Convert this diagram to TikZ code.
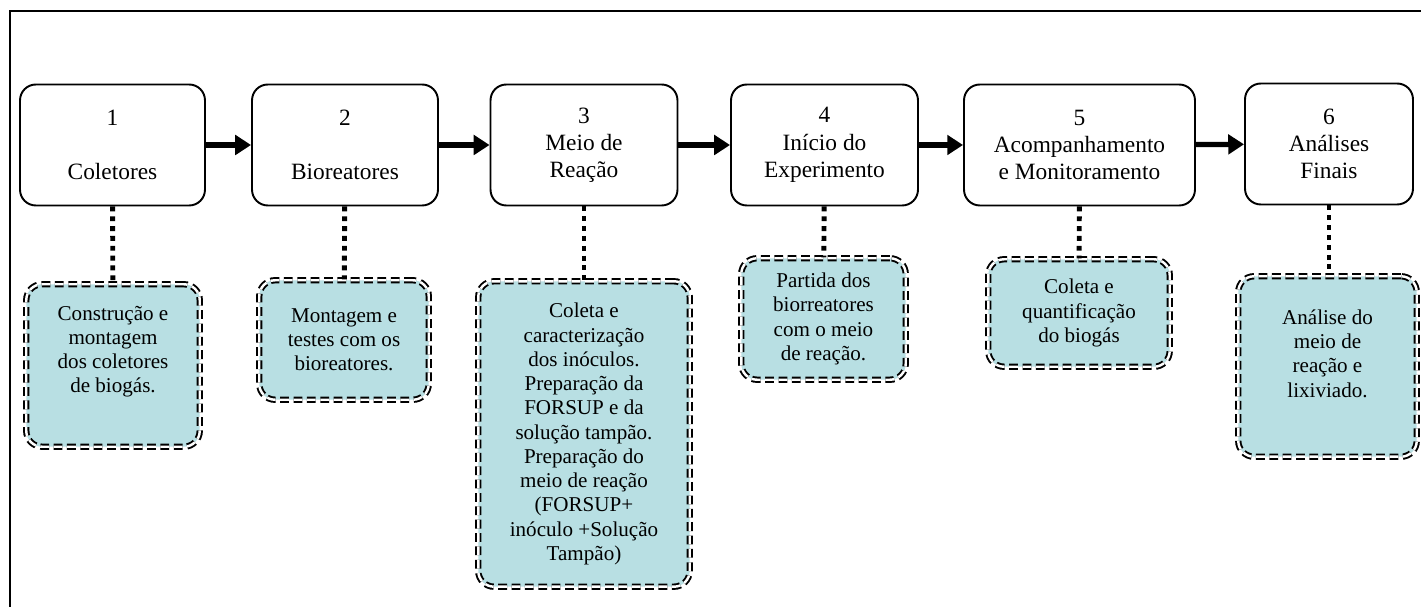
\documentclass[tikz,border=0pt]{standalone}
\usepackage{fontspec}
\setmainfont{Liberation Serif}
\usetikzlibrary{arrows.meta,positioning}
\colorlet{colorTASK}{black}
\definecolor{colorNOTE}{RGB}{184,223,227}
\tikzset{
   every path/.style={>={Triangle[length=9pt,width=11pt]}},
   stage/.style={draw=colorTASK,line width=1.1pt,rounded corners=9pt,fill=white,align=center,
      minimum height=2.42cm,inner sep=2pt,font=\fontsize{13.3}{15.5}\selectfont},
   note/.style={draw=black,dashed,dash pattern=on 5pt off 2.6pt,line width=1.1pt,double=white,
      double distance=1.4pt,rounded corners=9pt,fill=colorNOTE,align=center,inner sep=2pt,
      font=\fontsize{12}{13.8}\selectfont},
   flow/.style={->,line width=3pt,color=colorTASK},
   link/.style={-,line width=2.8pt,dash pattern=on 2.8pt off 2.8pt},
   frame/.style={line width=1.1pt},
}
\begin{document}
\begin{tikzpicture}[x=0.02cm,y=-0.02cm]
      \useasboundingbox (0,0) rectangle (1421,607);
      \draw[frame] (10,607) -- (10,11) -- (1421,11);
      \node[stage,minimum width=3.70cm] (st1) at (112.5,145) {1\\[15.5pt]Coletores};
      \node[stage,minimum width=3.72cm] (st2) at (345,145) {2\\[15.5pt]Bioreatores};
      \node[stage,minimum width=3.74cm] (st3) at (584,145) {3\\Meio de\\Reação};
      \node[stage,minimum width=3.74cm] (st4) at (824.5,145) {4\\Início do\\Experimento};
      \node[stage,minimum width=4.62cm] (st5) at (1079.5,145) {5\\Acompanhamento\\e Monitoramento};
      \node[stage,minimum width=3.36cm] (st6) at (1329,144) {6\\Análises\\Finais};
      \node[note,minimum width=3.47cm,minimum height=3.25cm,text depth=0.64cm] (nt1) at (113,365.5)
         {Construção e\\montagem\\dos coletores\\de biogás.};
      \node[note,minimum width=3.39cm,minimum height=2.39cm] (nt2) at (344,340)
         {Montagem e\\testes com os\\bioreatores.};
      \node[note,minimum width=4.23cm,minimum height=6.11cm] (nt3) at (584,434)
         {Coleta e\\caracterização\\dos inóculos.\\Preparação da\\FORSUP e da\\solução tampão.\\Preparação do\\meio de reação\\(FORSUP+\\inóculo +Solução\\Tampão)};
      \node[note,minimum width=3.29cm,minimum height=2.43cm] (nt4) at (823.5,319)
         {Partida dos\\biorreatores\\com o meio\\de reação.};
      \node[note,minimum width=3.63cm,minimum height=2.15cm] (nt5) at (1079,313)
         {Coleta e\\quantificação\\do biogás};
      \node[note,minimum width=3.57cm,minimum height=3.61cm,text depth=0.52cm] (nt6) at (1327.5,366.5)
         {Análise do\\meio de\\reação e\\lixiviado.};
      \draw[flow] (st1) -- (st2);
      \draw[flow] (st2) -- (st3);
      \draw[flow] (st3) -- (st4);
      \draw[flow] (st4) -- (st5);
      \draw[flow] (st5) -- (st6);
      \draw[link] (st1) -- (nt1);
      \draw[link] (st2) -- (nt2);
      \draw[link] (st3) -- (nt3);
      \draw[link] (st4) -- (nt4);
      \draw[link] (st5) -- (nt5);
      \draw[link] (st6.south) -- (st6.south |- nt6.north);
    \end{tikzpicture}
\end{document}
